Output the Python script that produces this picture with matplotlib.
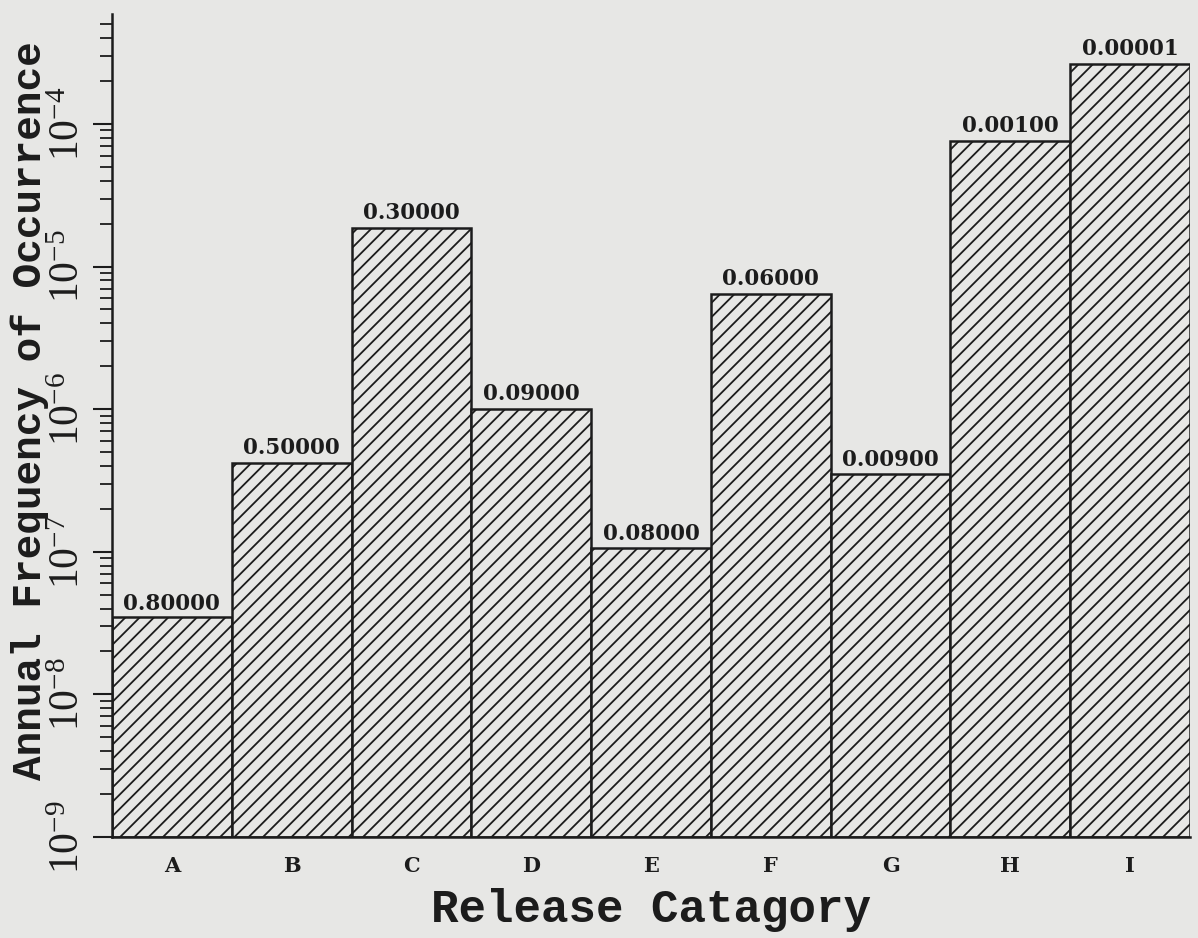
import matplotlib
matplotlib.use("Agg")
import matplotlib.pyplot as plt
import matplotlib.backend_bases as backend_bases
from matplotlib.ticker import LogLocator, NullFormatter, FixedLocator

categories = ["A", "B", "C", "D", "E", "F", "G", "H", "I"]
frequencies = [3.4e-8, 4.2e-7, 1.87e-5, 1.0e-6, 1.05e-7, 6.45e-6, 3.48e-7, 7.6e-5, 2.64e-4]
bar_labels = ["0.80000", "0.50000", "0.30000", "0.09000", "0.08000",
              "0.06000", "0.00900", "0.00100", "0.00001"]
ytick_values = [1e-9, 1e-8, 1e-7, 1e-6, 1e-5, 1e-4]
ytick_labels = [r"$\mathregular{10^{-9}}$", r"$\mathregular{10^{-8}}$", r"$\mathregular{10^{-7}}$",
                r"$\mathregular{10^{-6}}$", r"$\mathregular{10^{-5}}$", r"$\mathregular{10^{-4}}$"]

# denser hatching, closer to the scanned original
_orig_hatch_path = backend_bases.GraphicsContextBase.get_hatch_path
def _dense_hatch_path(self, density=6.0):
    return _orig_hatch_path(self, density=7.5)
backend_bases.GraphicsContextBase.get_hatch_path = _dense_hatch_path

bg = "#e7e7e5"
ink = "#1c1c1c"
plt.rcParams["hatch.linewidth"] = 1.3
plt.rcParams["hatch.color"] = ink

fig = plt.figure(figsize=(11.98, 9.38), dpi=100, facecolor=bg)
ax = fig.add_axes([112/1198, 1-837/938, (1190-112)/1198, (837-14)/938])
ax.set_facecolor(bg)

x = list(range(len(categories)))
ax.bar(x, frequencies, width=1.0, bottom=1e-9, color=bg, edgecolor=ink,
       linewidth=1.8, hatch="//")
ax.set_yscale("log")
ax.set_ylim(1e-9, 5.9e-4)
ax.set_xlim(-0.5, len(categories) - 0.5)

for xi, v, lab in zip(x, frequencies, bar_labels):
    ax.annotate(lab, (xi, v), xytext=(0, 6.5), textcoords="offset points",
                ha="center", va="baseline", fontsize=15.5, fontweight="bold",
                family="DejaVu Serif", color=ink)

ax.set_xticks(x)
ax.set_xticklabels(categories, fontsize=15, fontweight="bold", family="DejaVu Serif", color=ink)
ax.tick_params(axis="x", length=0, pad=14)

ax.yaxis.set_major_locator(FixedLocator(ytick_values))
ax.yaxis.set_minor_locator(LogLocator(base=10, subs=range(2, 10), numticks=20))
ax.yaxis.set_minor_formatter(NullFormatter())
ax.set_yticklabels(ytick_labels, rotation=90, va="center", fontsize=30,
                   family="Liberation Serif", color=ink)
ax.tick_params(axis="y", which="major", length=14, width=1.5, pad=3, color=ink)
ax.tick_params(axis="y", which="minor", length=9, width=1.3, color=ink)

for s in ["top", "right"]:
    ax.spines[s].set_visible(False)
for s in ["left", "bottom"]:
    ax.spines[s].set_linewidth(1.8)
    ax.spines[s].set_color(ink)

fig.text(30/1198, 1-411/938, "Annual Frequency of Occurrence", rotation=90,
         ha="center", va="center", fontsize=29.5, family="Liberation Mono",
         fontweight="bold", color=ink)
fig.text(651/1198, 1-922/938, "Release Catagory", ha="center", va="baseline",
         fontsize=33, family="Liberation Mono", fontweight="bold", color=ink)

fig.savefig("out.png", dpi=100, facecolor=bg)
